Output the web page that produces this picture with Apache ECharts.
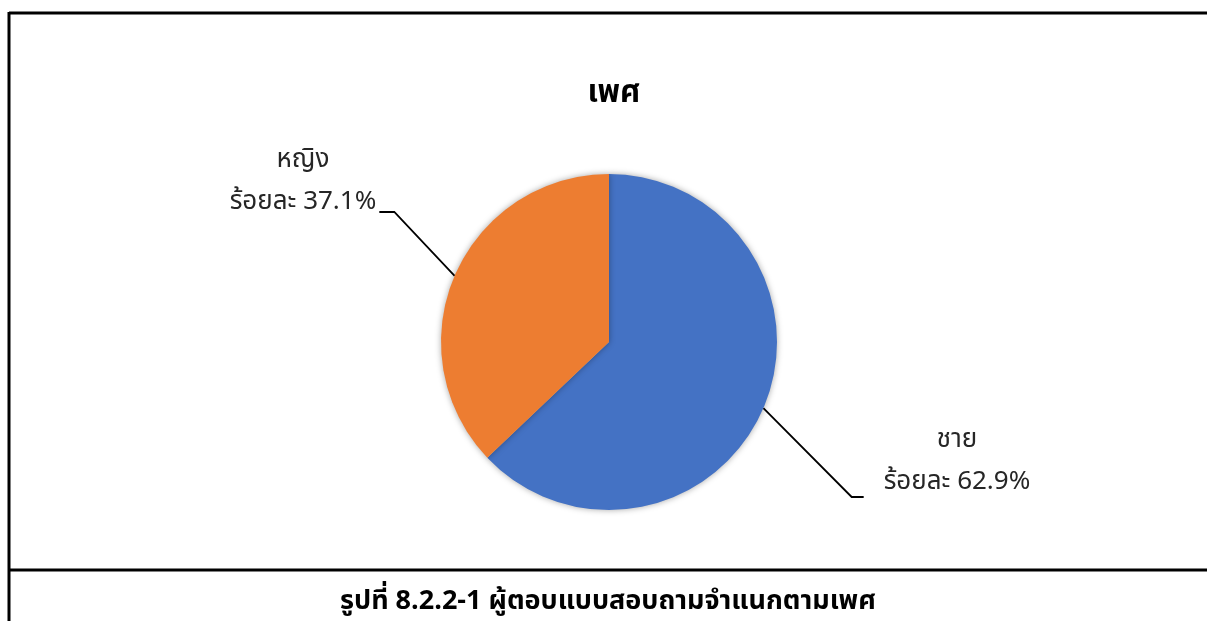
<!DOCTYPE html>
<html>
<head>
<meta charset="utf-8">
<script src="https://cdn.jsdelivr.net/npm/echarts@6/dist/echarts.min.js"></script>
<style>
html,body{margin:0;padding:0;background:#fff;}
#chart{width:1207px;height:621px;}
</style>
</head>
<body>
<div id="chart"></div>
<script>
// ข้อมูลเพศ
var categories = ['ชาย', 'หญิง'];
var percents = [62.9, 37.1];
var colors = ['#4472C4', '#ED7D31'];
var chartTitle = 'เพศ';
var caption = 'รูปที่ 8.2.2-1 ผู้ตอบแบบสอบถามจำแนกตามเพศ';

var fontFamily = '"Noto Sans Thai","Leelawadee UI",Tahoma,"DejaVu Sans",sans-serif';

// ตำแหน่งป้าย (กึ่งกลาง) ของแต่ละชิ้น
var labelPos = [[957, 463], [303, 183]];

var pieData = [];
for (var i = 0; i < categories.length; i++) {
	pieData.push({name: categories[i], value: percents[i], itemStyle: {color: colors[i]}});
}

var myChart = echarts.init(document.getElementById('chart'));
var option = {
	backgroundColor: '#fff',
	animation: false,
	title: [
		{
			text: chartTitle,
			left: 609, top: 75, textAlign: 'center',
			textStyle: {fontFamily: fontFamily, fontSize: 31, fontWeight: 'bold', color: '#000'}
		},
		{
			text: caption,
			left: 603, top: 585, textAlign: 'center',
			textStyle: {fontFamily: fontFamily, fontSize: 27, fontWeight: 'bold', color: '#000'}
		}
	],
	graphic: [
		// กรอบ
		{type: 'line', shape: {x1: 9, y1: 13, x2: 1207, y2: 13}, style: {stroke: '#000', lineWidth: 3}},
		{type: 'line', shape: {x1: 9, y1: 12, x2: 9, y2: 621}, style: {stroke: '#000', lineWidth: 3}},
		{type: 'line', shape: {x1: 9, y1: 570, x2: 1207, y2: 570}, style: {stroke: '#000', lineWidth: 3}}
	],
	series: [{
		type: 'pie',
		center: [609, 342],
		radius: 168,
		startAngle: 90,
		clockwise: true,
		silent: true,
		itemStyle: {shadowBlur: 6, shadowColor: 'rgba(0,0,0,0.35)'},
		label: {
			show: true,
			position: 'outside',
			formatter: function (p) { return p.name + '\nร้อยละ ' + p.value.toFixed(1) + '%'; },
			fontFamily: fontFamily,
			fontSize: 26,
			lineHeight: 42,
			color: '#262626',
			align: 'center'
		},
		labelLine: {show: true, length: 40, length2: 15, lineStyle: {color: '#000', width: 1.8}},
		labelLayout: function (params) {
			var idx = params.dataIndex;
			var cx = labelPos[idx][0], cy = labelPos[idx][1];
			var w = params.labelRect.width;
			var p0 = params.labelLinePoints ? params.labelLinePoints[0] : [cx, cy];
			var pts;
			if (idx === 0) {
				var endX = cx - w / 2 - 20;
				pts = [p0, [endX - 12, cy + 34], [endX, cy + 34]];
			} else {
				var endX2 = cx + w / 2 + 3;
				pts = [p0, [endX2 + 15, cy + 29], [endX2, cy + 29]];
			}
			return {x: cx, y: cy, align: 'center', verticalAlign: 'middle', labelLinePoints: pts};
		},
		data: pieData
	}]
};
myChart.setOption(option);
</script>
</body>
</html>
